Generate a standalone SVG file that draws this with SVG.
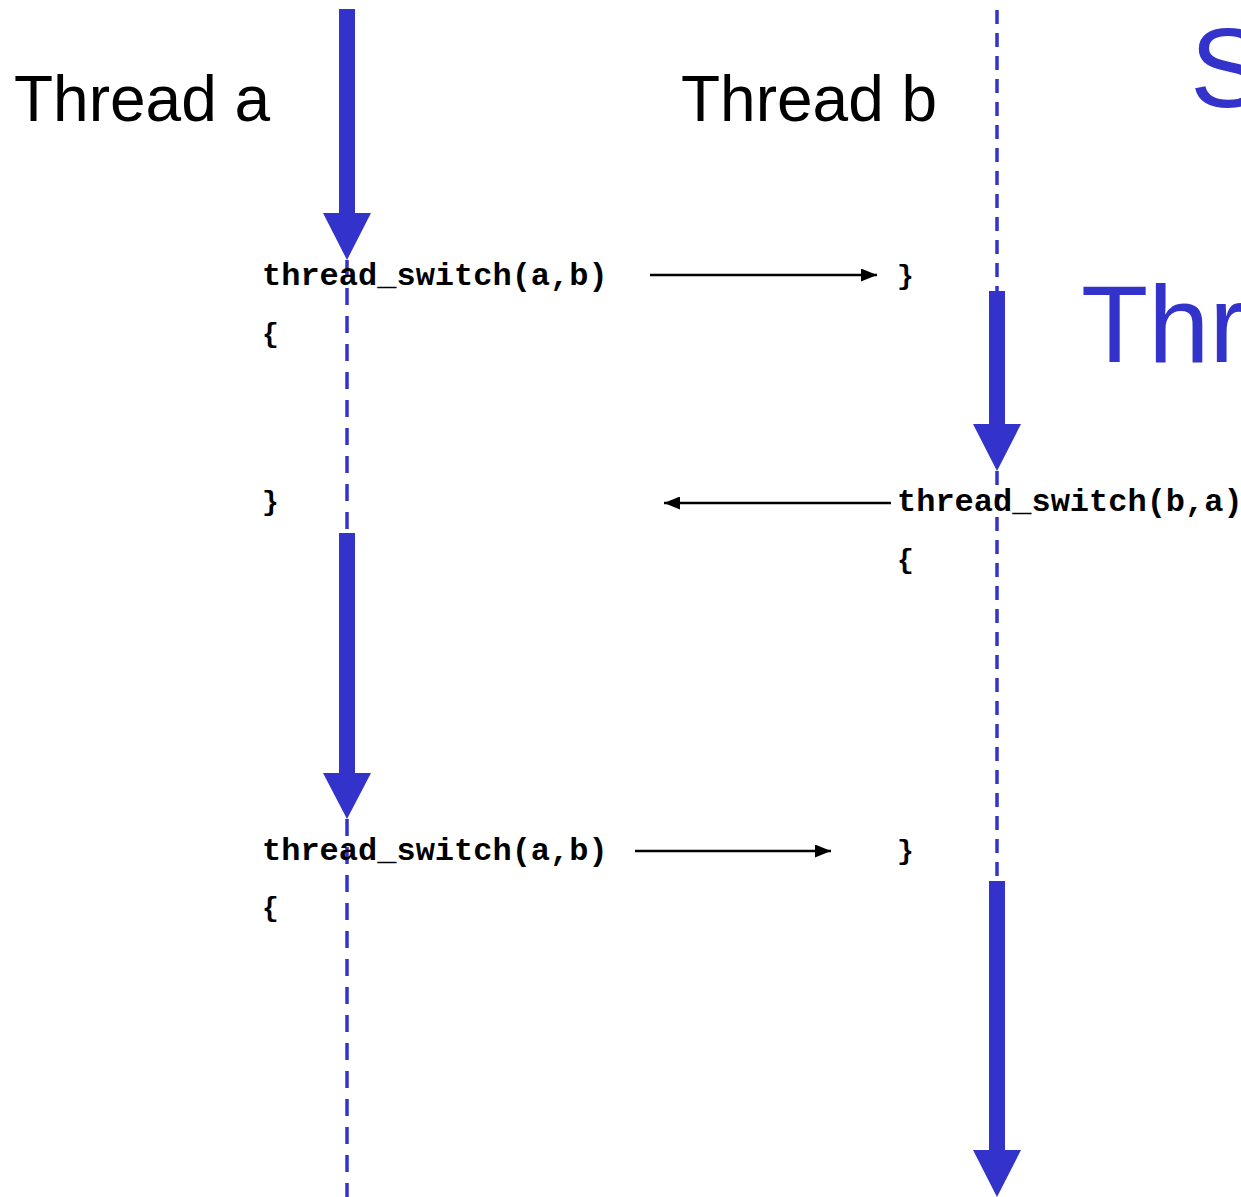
<svg xmlns="http://www.w3.org/2000/svg" width="1241" height="1197" viewBox="0 0 1241 1197">
  <style>
    .title { font-family: "Liberation Sans", Arial, sans-serif; font-size: 64px; fill: #000; }
    .blue { font-family: "Liberation Sans", Arial, sans-serif; fill: #3333cc; }
    .code { font-family: "Liberation Mono", "Courier New", monospace; font-weight: bold; font-size: 32px; fill: #000; }
    .brace { font-size: 28px; }
    .flow { fill: #3333cc; }
    .dashA { stroke: #3333cc; stroke-width: 3.5; fill: none; stroke-dasharray: 17 11; }
    .dashB { stroke: #3333cc; stroke-width: 3.5; fill: none; stroke-dasharray: 14 9; }
    .call { stroke: #000; stroke-width: 2.5; fill: none; }
  </style>
  <defs>
    <marker id="ah" viewBox="0 0 16 13" refX="16" refY="6.5" markerWidth="16" markerHeight="13" markerUnits="userSpaceOnUse" orient="auto">
      <path d="M0,0 L16,6.5 L0,13 Z" fill="#000"/>
    </marker>
  </defs>

  <rect width="1241" height="1197" fill="#fff"/>

  <g id="titles">
    <text class="title" x="14" y="121">Thread a</text>
    <text class="title" x="681" y="121">Thread b</text>
    <text class="blue" x="1190" y="107" font-size="113">S</text>
    <text class="blue" x="1081" y="362" font-size="110">Thr</text>
  </g>

  <g id="thread-a-timeline">
    <path class="flow" d="M339,9 H355 V213 H371 L347,260 L323,213 H339 Z"/>
    <line class="dashA" x1="347" y1="260" x2="347" y2="533"/>
    <path class="flow" d="M339,533 H355 V773 H371 L347,819 L323,773 H339 Z"/>
    <line class="dashA" x1="347" y1="819" x2="347" y2="1197"/>
  </g>

  <g id="thread-b-timeline">
    <line class="dashB" x1="997" y1="10" x2="997" y2="291"/>
    <path class="flow" d="M989,291 H1005 V424 H1021 L997,471 L973,424 H989 Z"/>
    <line class="dashB" x1="997" y1="471" x2="997" y2="881"/>
    <path class="flow" d="M989,881 H1005 V1150 H1021 L997,1197 L973,1150 H989 Z"/>
  </g>

  <g id="code-a1">
    <text class="code" x="262" y="285">thread_switch(a,b)</text>
    <text class="code brace" x="262" y="342">{</text>
    <text class="code brace" x="262" y="510">}</text>
  </g>

  <g id="code-b1">
    <text class="code brace" x="897" y="284">}</text>
    <text class="code" x="897" y="511">thread_switch(b,a)</text>
    <text class="code brace" x="897" y="568">{</text>
  </g>

  <g id="code-a2">
    <text class="code" x="262" y="860">thread_switch(a,b)</text>
    <text class="code brace" x="262" y="916">{</text>
  </g>

  <g id="code-b2">
    <text class="code brace" x="897" y="859">}</text>
  </g>

  <g id="connectors">
    <line class="call" x1="650" y1="275" x2="877" y2="275" marker-end="url(#ah)"/>
    <line class="call" x1="891" y1="503" x2="664" y2="503" marker-end="url(#ah)"/>
    <line class="call" x1="635" y1="851" x2="831" y2="851" marker-end="url(#ah)"/>
  </g>
</svg>
